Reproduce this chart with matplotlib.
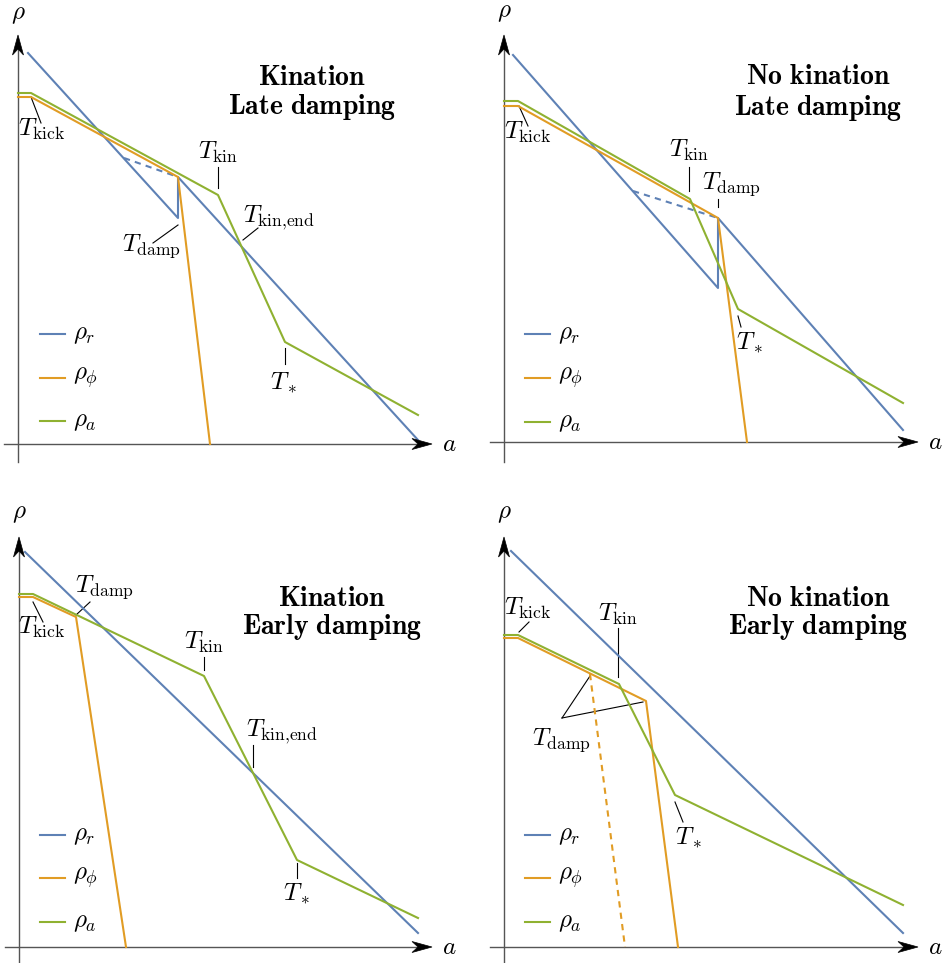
import numpy as np
import matplotlib
matplotlib.use("Agg")
import matplotlib.pyplot as plt
from matplotlib.patches import Polygon

plt.rcParams['mathtext.fontset'] = 'cm'
plt.rcParams['font.family'] = 'serif'

C_R = '#5E81B5'
C_PHI = '#E19C24'
C_A = '#8FB131'
FS = 18
FS_TITLE = 20

# --- energy densities (schematic, log a vs log rho units) ---
# top left: kination, late damping
kl_r_a = [10, 160, 160, 400]
kl_r_rho = [391, 226, 267, 4]
kl_rdash_a = [106, 160]
kl_rdash_rho = [286, 267]
kl_phi_a = [0, 13, 160, 192]
kl_phi_rho = [347, 347, 267, 0]
kl_ax_a = [0, 13, 200, 267, 400]
kl_ax_rho = [351, 351, 249, 102, 29]

# top right: no kination, late damping
nl_r_a = [9, 214, 214, 399]
nl_r_rho = [387, 154, 224, 12]
nl_rdash_a = [129, 214]
nl_rdash_rho = [251, 224]
nl_phi_a = [0, 14, 214, 243]
nl_phi_rho = [336, 336, 224, 0]
nl_ax_a = [0, 14, 186, 234, 399]
nl_ax_rho = [341, 341, 243, 133, 39]

# bottom left: kination, early damping
ke_r_a = [6, 399]
ke_r_rho = [395, 14]
ke_phi_a = [0, 14, 57, 107]
ke_phi_rho = [350, 350, 330, 0]
ke_ax_a = [0, 14, 185, 278, 399]
ke_ax_rho = [353, 353, 271, 87, 29]

# bottom right: no kination, early damping
ne_r_a = [7, 399]
ne_r_rho = [396, 14]
ne_phi_a = [0, 14, 142, 174]
ne_phi_rho = [309, 309, 246, 0]
ne_phidash_a = [86, 121]
ne_phidash_rho = [273, 0]
ne_ax_a = [0, 14, 115, 171, 399]
ne_ax_rho = [312, 312, 263, 152, 42]

W, H = 943, 963
fig = plt.figure(figsize=(W / 100, H / 100), dpi=100)


def make_panel(x0, y0, x1, y1, ox, oy):
    ax = fig.add_axes([x0 / W, 1 - y1 / H, (x1 - x0) / W, (y1 - y0) / H])
    ax.set_xlim(x0 - ox, x1 - ox)
    ax.set_ylim(oy - y1, oy - y0)
    ax.axis('off')
    return ax


def stealth(ax, tip, direction, length=20, width=11, inset=6):
    d = np.array(direction, float)
    n = np.array([-d[1], d[0]])
    t = np.array(tip, float)
    pts = [t, t - length * d + width / 2 * n, t - (length - inset) * d,
           t - length * d - width / 2 * n]
    ax.add_patch(Polygon(pts, closed=True, fc='black', ec='black', lw=0.5,
                         clip_on=False, zorder=6))


def draw_axes(ax, ytop, ybot, xright, rho_pos, a_pos):
    ax.plot([0, 0], [ybot, ytop - 10], color='#555555', lw=1.0, clip_on=False, zorder=1)
    ax.plot([-14, xright - 10], [0, 0], color='#555555', lw=1.0, clip_on=False, zorder=1)
    stealth(ax, (0, ytop), (0, 1))
    stealth(ax, (xright, 0), (1, 0))
    ax.text(*rho_pos, r'$\rho$', fontsize=FS, ha='center', va='center')
    ax.text(*a_pos, r'$a$', fontsize=FS, ha='center', va='center')


def draw_legend(ax, x0, ys):
    labels = [r'$\rho_r$', r'$\rho_\phi$', r'$\rho_a$']
    for y, c, lab in zip(ys, [C_R, C_PHI, C_A], labels):
        ax.plot([x0, x0 + 25], [y, y], color=c, lw=1.5)
        ax.text(x0 + 33, y, lab, fontsize=FS, ha='left', va='center')


def label(ax, txt, pos, leaders):
    ax.text(*pos, txt, fontsize=FS, ha='center', va='center')
    for (xa, ya), (xb, yb) in leaders:
        ax.plot([xa, xb], [ya, yb], color='black', lw=0.8)


def title(ax, x, y1, y2, l1, l2):
    ax.text(x, y1, l1, fontsize=FS_TITLE, ha='center', va='center')
    ax.text(x, y2, l2, fontsize=FS_TITLE, ha='center', va='center')


LW = 1.5
KIN_END = r'$T_{\rm kin{,}end}$'

# ---- top left ----
ax = make_panel(0, 0, 470, 480, 18, 444)
draw_axes(ax, 409, -18, 414, (0, 429), (431, 0))
ax.plot(kl_r_a, kl_r_rho, color=C_R, lw=LW, zorder=3)
ax.plot(kl_rdash_a, kl_rdash_rho, color=C_R, lw=LW, ls=(0, (3, 2.5)), zorder=3)
ax.plot(kl_phi_a, kl_phi_rho, color=C_PHI, lw=LW, zorder=3)
ax.plot(kl_ax_a, kl_ax_rho, color=C_A, lw=LW, zorder=3)
draw_legend(ax, 22, [110, 66, 23])
title(ax, 294, 367, 337, r'$\mathbf{Kination}$', r'$\mathbf{Late\ damping}$')
label(ax, r'$T_{\rm kick}$', (24, 315), [((13, 347), (23, 321))])
label(ax, r'$T_{\rm kin}$', (200, 292), [((200, 277), (200, 256))])
label(ax, KIN_END, (261, 226), [((240, 216), (225, 204))])
label(ax, r'$T_{\rm damp}$', (133, 198), [((135, 201), (160, 219))])
label(ax, r'$T_*$', (266, 61), [((267, 96), (267, 80))])

# ---- top right ----
ax = make_panel(470, 0, 943, 480, 504, 442)
draw_axes(ax, 407, -20, 414, (0, 429), (431, 0))
ax.plot(nl_r_a, nl_r_rho, color=C_R, lw=LW, zorder=3)
ax.plot(nl_rdash_a, nl_rdash_rho, color=C_R, lw=LW, ls=(0, (3, 2.5)), zorder=3)
ax.plot(nl_phi_a, nl_phi_rho, color=C_PHI, lw=LW, zorder=3)
ax.plot(nl_ax_a, nl_ax_rho, color=C_A, lw=LW, zorder=3)
draw_legend(ax, 21, [108, 64, 20])
title(ax, 314, 366, 334, r'$\mathbf{No\ kination}$', r'$\mathbf{Late\ damping}$')
label(ax, r'$T_{\rm kick}$', (24, 310), [((15, 336), (24, 316))])
label(ax, r'$T_{\rm kin}$', (185, 292), [((185, 275), (185, 251))])
label(ax, r'$T_{\rm damp}$', (227, 258), [((214, 243), (214, 235))])
label(ax, r'$T_*$', (246, 99), [((234, 126), (237, 115))])

# ---- bottom left ----
ax = make_panel(0, 480, 470, 963, 19, 947)
draw_axes(ax, 410, -20, 413, (0, 434), (430, 0))
ax.plot(ke_r_a, ke_r_rho, color=C_R, lw=LW, zorder=3)
ax.plot(ke_phi_a, ke_phi_rho, color=C_PHI, lw=LW, zorder=3)
ax.plot(ke_ax_a, ke_ax_rho, color=C_A, lw=LW, zorder=3)
draw_legend(ax, 21, [112, 69, 25])
title(ax, 313, 349, 320, r'$\mathbf{Kination}$', r'$\mathbf{Early\ damping}$')
label(ax, r'$T_{\rm kick}$', (23, 320), [((14, 345), (24, 325))])
label(ax, r'$T_{\rm damp}$', (85, 360), [((57, 332), (71, 345))])
label(ax, r'$T_{\rm kin}$', (185, 305), [((185, 290), (185, 277))])
label(ax, KIN_END, (263, 215), [((234, 202), (234, 180))])
label(ax, r'$T_*$', (278, 53), [((278, 84), (278, 69))])

# ---- bottom right ----
ax = make_panel(470, 480, 943, 963, 504, 947)
draw_axes(ax, 410, -20, 414, (0, 434), (431, 0))
ax.plot(ne_r_a, ne_r_rho, color=C_R, lw=LW, zorder=3)
ax.plot(ne_phi_a, ne_phi_rho, color=C_PHI, lw=LW, zorder=3)
ax.plot(ne_phidash_a, ne_phidash_rho, color=C_PHI, lw=LW, ls=(0, (3, 2.5)), zorder=3)
ax.plot(ne_ax_a, ne_ax_rho, color=C_A, lw=LW, zorder=3)
draw_legend(ax, 21, [112, 69, 25])
title(ax, 314, 349, 320, r'$\mathbf{No\ kination}$', r'$\mathbf{Early\ damping}$')
label(ax, r'$T_{\rm kick}$', (24, 339), [((15, 315), (25, 325))])
label(ax, r'$T_{\rm kin}$', (114, 333), [((114, 319), (114, 270))])
label(ax, r'$T_{\rm damp}$', (57, 207), [((58, 229), (86, 271)), ((58, 229), (139, 245))])
label(ax, r'$T_*$', (185, 109), [((171, 145), (179, 125))])

fig.savefig('out.png', dpi=100)
